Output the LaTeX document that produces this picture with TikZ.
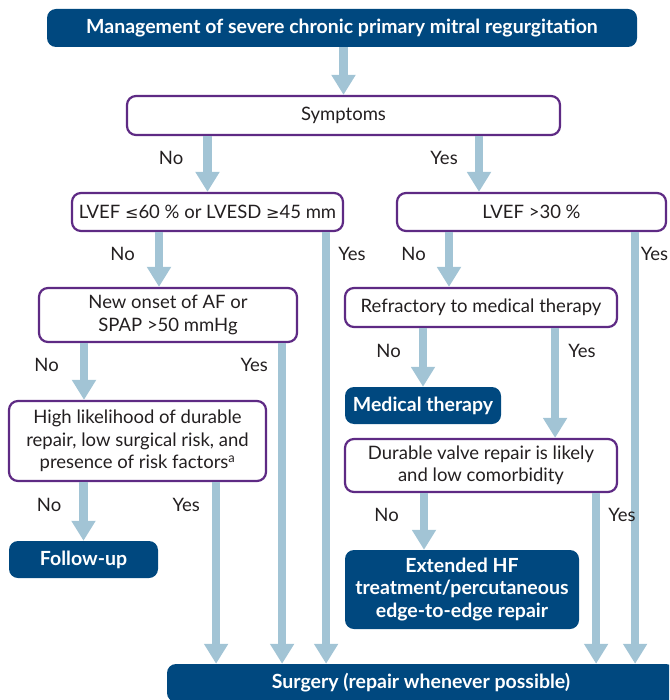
\documentclass[tikz,border=0pt]{standalone}
\usepackage{fontspec}
\setmainfont{Lato}
\newfontfamily\symf{DejaVu Sans}
\usetikzlibrary{arrows.meta,positioning}
\definecolor{mrblue}{HTML}{00487F}
\definecolor{mrpurple}{HTML}{5E2A84}
\definecolor{mrarrow}{HTML}{A2C4D5}
\definecolor{mrtext}{HTML}{231F20}

\begin{document}
\begin{tikzpicture}[
  x=1pt, y=-1pt,
  font=\fontsize{18.5}{22.5}\selectfont,
  q/.style={draw=mrpurple, line width=2.2pt, fill=white, rounded corners=9pt,
            align=center, text=mrtext, inner sep=2pt},
  act/.style={fill=mrblue, rounded corners=9pt, align=center, text=white,
              inner sep=2pt, font=\fontsize{19.5}{22.5}\selectfont\bfseries},
  arr/.style={-{Triangle[length=20pt,width=23pt]}, line width=8.5pt, draw=mrarrow},
  lbl/.style={text=mrtext, inner sep=0pt},
]
\clip (0,0) rectangle (669,700);

% ======================= boxes =======================
\node[act, minimum width=590pt, minimum height=38pt] (title) at (342,28)
  {Management of severe chronic primary mitral regurgitation};
\node[q, minimum width=433pt, minimum height=39pt] (sym) at (343.5,115.5) {Symptoms};

% asymptomatic side (left)
\node[q, minimum width=271pt, minimum height=38pt] (lvsd) at (207.5,212)
  {LVEF {\symf\fontsize{16}{20}\selectfont ≤}60 \% or LVESD {\symf\fontsize{16}{20}\selectfont ≥}45 mm};
\node[q, minimum width=258pt, minimum height=54pt] (onset) at (168,315)
  {New onset of AF or\\SPAP >50 mmHg};
\node[q, minimum width=257pt, minimum height=80pt] (risk) at (137.5,441)
  {High likelihood of durable\\repair, low surgical risk, and\\presence of risk factors\textsuperscript{a}};
\node[act, minimum width=149pt, minimum height=37pt] (fol) at (83.5,559.5) {Follow-up};

% symptomatic side (right)
\node[q, minimum width=269pt, minimum height=38pt] (lvef) at (531.5,212) {LVEF >30 \%};
\node[q, minimum width=272pt, minimum height=39pt] (refr) at (481,307.5) {Refractory to medical therapy};
\node[act, minimum width=156pt, minimum height=37pt] (med) at (423,405.5) {Medical therapy};
\node[q, minimum width=272pt, minimum height=53pt] (dur) at (481,465.5)
  {Durable valve repair is likely\\and low comorbidity};
\node[act, minimum width=234pt, minimum height=79pt] (ext) at (462,589.5)
  {Extended HF\\treatment/percutaneous\\edge-to-edge repair};

\node[act, minimum width=508pt, minimum height=38pt] (surg) at (421,683)
  {Surgery (repair whenever possible)};

% ======================= arrow columns =======================
\coordinate (sY) at ([xshift=-52.5pt]lvef.north);
\coordinate (lN) at ([xshift=-9pt]onset.north);
\coordinate (lY) at ([xshift=-18pt]lvsd.south east);
\coordinate (eN) at ([xshift=-32pt]refr.north);
\coordinate (eY) at ([xshift=-32pt]lvef.south east);
\coordinate (oN) at ([xshift=-53.5pt]risk.north);
\coordinate (oY) at ([xshift=-16pt]onset.south east);
\coordinate (rY) at ([xshift=-63pt]refr.south east);
\coordinate (hY) at ([xshift=-51pt]risk.south east);
\coordinate (dN) at ([xshift=-38pt]ext.north);
\coordinate (dY) at ([xshift=-22pt]dur.south east);

% ======================= edges =======================
\draw[arr] (title.south -| sym.north) -- (sym.north);
\draw[arr] (sym.south -| lvsd.north) -- node[lbl,at start,below left=11pt and 20pt]{No} (lvsd.north);
\draw[arr] (sY |- sym.south) -- node[lbl,at start,below left=11pt and 17pt]{Yes} (sY);

% left branch
\draw[arr] (lN |- lvsd.south) -- node[lbl,at start,below left=11pt and 20pt]{No} (lN);
\draw[arr] (lY) -- node[lbl,at start,below right=11pt and 8pt]{Yes} (lY |- surg.north);
\draw[arr] (oN |- onset.south) -- node[lbl,at start,below left=11pt and 21pt]{No} (oN);
\draw[arr] (oY) -- node[lbl,at start,below left=11pt and 10pt]{Yes} (oY |- surg.north);
\draw[arr] (risk.south -| fol.north) -- node[lbl,at start,below left=12pt and 18pt]{No} (fol.north);
\draw[arr] (hY) -- node[lbl,at start,below left=12pt and 12pt]{Yes} (hY |- surg.north);

% right branch
\draw[arr] (eN |- lvef.south) -- node[lbl,at start,below left=11pt and 19pt]{No} (eN);
\draw[arr] (eY) -- node[lbl,at start,below right=11pt and 1.5pt]{Yes} (eY |- surg.north);
\draw[arr] (refr.south -| med.north) -- node[lbl,at start,below left=12pt and 18pt]{No} (med.north);
\draw[arr] (rY) -- node[lbl,at start,below right=12pt and 9pt]{Yes} (rY |- dur.north);
\draw[arr] (dN |- dur.south) -- node[lbl,at start,below left=11pt and 21pt]{No} (dN);
\draw[arr] (dY) -- node[lbl,at start,below right=11pt and 8pt]{Yes} (dY |- surg.north);
\end{tikzpicture}
\end{document}
